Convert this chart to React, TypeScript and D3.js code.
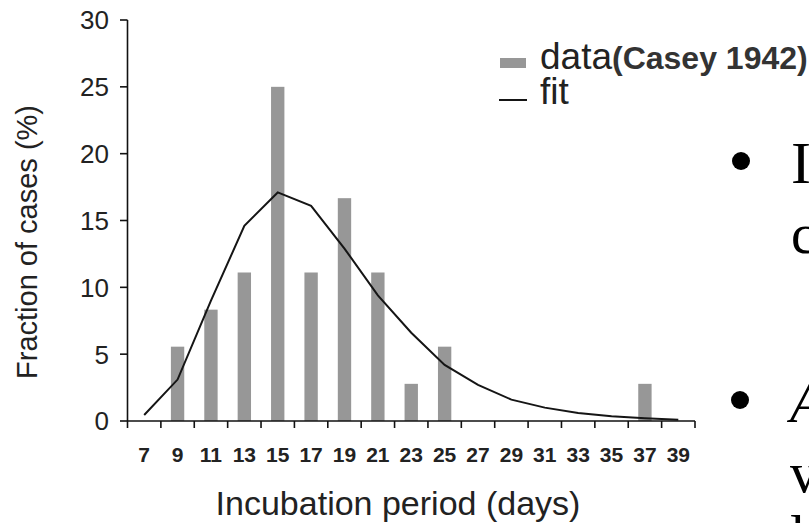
import React from "react";
import * as d3 from "d3";

const categories = [7, 9, 11, 13, 15, 17, 19, 21, 23, 25, 27, 29, 31, 33, 35, 37, 39];
const dataValues = [0, 5.56, 8.33, 11.11, 25, 11.11, 16.67, 11.11, 2.78, 5.56, 0, 0, 0, 0, 0, 2.78, 0];
const fitValues = [0.45, 3.1, 9.0, 14.6, 17.1, 16.1, 12.9, 9.4, 6.6, 4.2, 2.7, 1.6, 1.0, 0.6, 0.35, 0.2, 0.1];
const yTicks = [0, 5, 10, 15, 20, 25, 30];
const yTitle = "Fraction of cases (%)";
const xTitle = "Incubation period (days)";
const legendData = "data";
const legendSource = "(Casey 1942)";
const legendFit = "fit";

const W = 809;
const H = 523;
const sans = "'Liberation Sans', Arial, Helvetica, sans-serif";
const serif = "'Liberation Serif', 'Times New Roman', serif";

export default function App() {
  const x = d3.scaleBand<number>().domain(categories).range([127.5, 695]).padding(0);
  const y = d3.scaleLinear().domain([0, 30]).range([421, 20]);
  const bw = x.bandwidth();
  const barW = bw * 0.4;
  const boundaries = [...categories.map((c) => x(c) as number), 695];
  const line = d3
    .line<number>()
    .x((_, i) => (x(categories[i]) as number) + bw / 2)
    .y((d) => y(d))
    .curve(d3.curveLinear);

  return (
    <svg
      width={W}
      height={H}
      style={{ position: "absolute", left: 0, top: 0, background: "#fff" }}
    >
      {/* bars */}
      {dataValues.map((v, i) =>
        v > 0 ? (
          <rect
            key={i}
            x={(x(categories[i]) as number) + bw / 2 - barW / 2}
            y={y(v)}
            width={barW}
            height={y(0) - y(v)}
            fill="#979797"
          />
        ) : null
      )}
      {/* fit line */}
      <path d={line(fitValues) || ""} fill="none" stroke="#151515" strokeWidth={2} />

      {/* y axis */}
      <line x1={127.5} x2={127.5} y1={y(30)} y2={y(0)} stroke="#111" strokeWidth={1.6} />
      {yTicks.map((t) => (
        <g key={t}>
          <line x1={120} x2={127.5} y1={y(t)} y2={y(t)} stroke="#111" strokeWidth={1.6} />
          <text
            x={109}
            y={y(t)}
            dy="0.36em"
            textAnchor="end"
            fontFamily={sans}
            fontSize={26}
            fill="#222"
          >
            {t}
          </text>
        </g>
      ))}
      <text
        transform={`translate(37,242) rotate(-90)`}
        textAnchor="middle"
        fontFamily={sans}
        fontSize={29}
        fill="#222"
      >
        {yTitle}
      </text>

      {/* x axis */}
      <line x1={127.5} x2={695} y1={y(0)} y2={y(0)} stroke="#111" strokeWidth={1.6} />
      {boundaries.map((b, i) => (
        <line key={i} x1={b} x2={b} y1={y(0)} y2={y(0) + 7} stroke="#111" strokeWidth={1.6} />
      ))}
      {categories.map((c) => (
        <text
          key={c}
          x={(x(c) as number) + bw / 2}
          y={462}
          textAnchor="middle"
          fontFamily={sans}
          fontWeight="bold"
          fontSize={21}
          fill="#222"
        >
          {c}
        </text>
      ))}
      <text x={398} y={515} textAnchor="middle" fontFamily={sans} fontSize={34} fill="#222">
        {xTitle}
      </text>

      {/* legend */}
      <rect x={500} y={58} width={26} height={10} fill="#979797" />
      <text x={540} y={69} fontFamily={sans} fontSize={37} fill="#222">
        {legendData}
      </text>
      <text x={612} y={69} fontFamily={sans} fontWeight="bold" fontSize={32} fill="#333">
        {legendSource}
      </text>
      <line x1={499} x2={527} y1={100} y2={100} stroke="#151515" strokeWidth={2} />
      <text x={540} y={104} fontFamily={sans} fontSize={37} fill="#222">
        {legendFit}
      </text>

      {/* slide remnants */}
      <circle cx={741} cy={161} r={9} fill="#000" />
      <text x={791} y={183} fontFamily={serif} fontSize={60} fill="#000">
        I
      </text>
      <text x={791} y={253} fontFamily={serif} fontSize={56} fill="#000">
        c
      </text>
      <circle cx={740} cy={400} r={9} fill="#000" />
      <text x={790} y={422} fontFamily={serif} fontStyle="italic" fontSize={56} fill="#000">
        A
      </text>
      <text x={790} y={492} fontFamily={serif} fontSize={56} fill="#000">
        v
      </text>
      <text x={790} y={555} fontFamily={serif} fontSize={56} fill="#000">
        l
      </text>
    </svg>
  );
}
